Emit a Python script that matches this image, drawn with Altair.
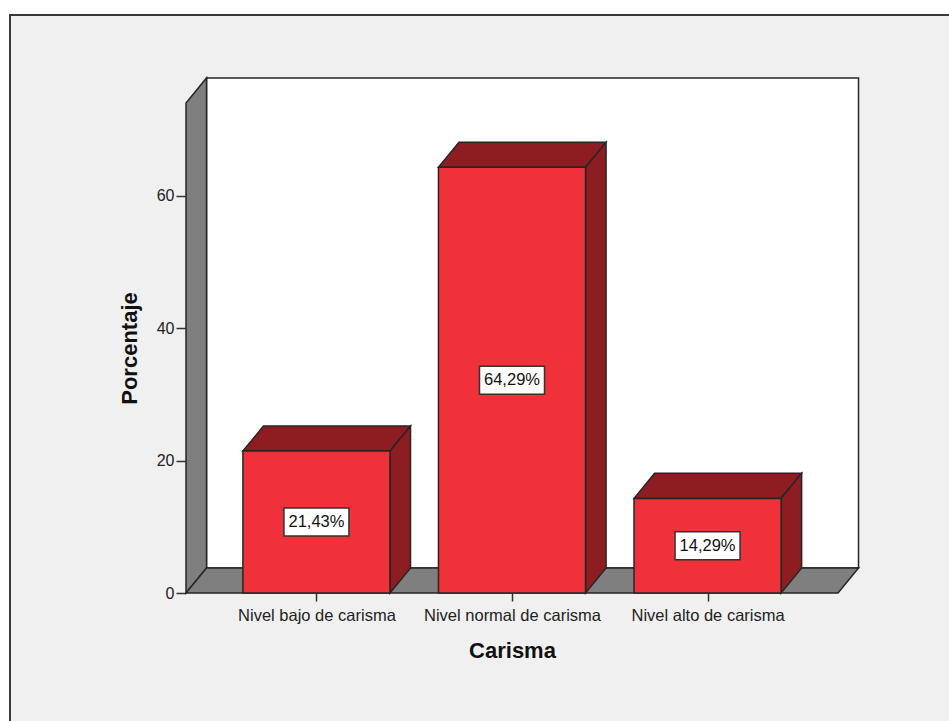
import json
import altair as alt
import pandas as pd

# ---- data ----
categories = ["Nivel bajo de carisma", "Nivel normal de carisma", "Nivel alto de carisma"]
values = [21.43, 64.29, 14.29]
value_labels = ["21,43%", "64,29%", "14,29%"]
y_ticks = [0, 20, 40, 60]

# ---- geometry (in scale units) ----
X_MIN, X_MAX = -0.667, 2.667
Y_MAX = 74.0
HW = 0.376          # half bar width
DX = 0.105          # depth offset in x units
DY = 3.78           # depth offset in y units

FONT = "Liberation Sans"
RED = "#f0313a"
DARK_RED = "#8e1d22"
GRAY = "#7f7f7f"
EDGE = "#262626"

xs = alt.Scale(domain=[X_MIN, X_MAX], nice=False, zero=False)
ys = alt.Scale(domain=[0, Y_MAX], nice=False, zero=False)

idx = list(range(len(categories)))
cats_js = json.dumps(categories)

x_axis = alt.Axis(
    values=idx, labelExpr=f"{cats_js}[datum.value]", title="Carisma",
    domain=False, grid=False, tickSize=8, tickColor="#333", tickWidth=1.5,
    labelFont=FONT, labelFontSize=16.5, labelColor="#222", labelPadding=6,
    titleFont=FONT, titleFontSize=22, titleFontWeight="bold", titleColor="#111",
    titlePadding=17, zindex=2,
)
y_axis = alt.Axis(
    values=y_ticks, title="Porcentaje", domain=False, grid=False,
    tickSize=10, tickColor="#333", tickWidth=1.5,
    labelFont=FONT, labelFontSize=16, labelColor="#222", labelPadding=2,
    titleFont=FONT, titleFontSize=22, titleFontWeight="bold", titleColor="#111",
    titlePadding=15, zindex=2,
)

front = pd.DataFrame({
    "pos": idx,
    "x0": [i - HW for i in idx],
    "x1": [i + HW for i in idx],
    "y0": [0.0] * len(idx),
    "v": values,
    "mid": [v / 2 for v in values],
    "label": value_labels,
    "cat": categories,
})

top_rows, side_rows = [], []
for i, v in zip(idx, values):
    x0, x1 = i - HW, i + HW
    top_rows += [
        {"bar": i, "x": x0, "lo": v, "hi": v},
        {"bar": i, "x": x0 + DX, "lo": v, "hi": v + DY},
        {"bar": i, "x": x1, "lo": v, "hi": v + DY},
        {"bar": i, "x": x1 + DX, "lo": v + DY, "hi": v + DY},
    ]
    side_rows += [
        {"bar": i, "x": x1, "lo": 0.0, "hi": v},
        {"bar": i, "x": x1 + DX, "lo": DY, "hi": v + DY},
    ]
top = pd.DataFrame(top_rows)
side = pd.DataFrame(side_rows)

back = pd.DataFrame({"x0": [X_MIN + DX], "x1": [X_MAX + DX], "y0": [DY], "y1": [Y_MAX + DY]})
left_wall = pd.DataFrame({"x": [X_MIN, X_MIN + DX], "lo": [0.0, DY], "hi": [Y_MAX, Y_MAX + DY]})
floor = pd.DataFrame({
    "x": [X_MIN, X_MIN + DX, X_MAX, X_MAX + DX],
    "lo": [0.0, 0.0, 0.0, DY],
    "hi": [0.0, DY, DY, DY],
})

frame = alt.Chart(pd.DataFrame({"a": [0]})).mark_rect(
    fill="#f0f0f0", stroke="#3a3a3a", strokeWidth=2
).encode(
    x=alt.value(-176), x2=alt.value(800),
    y=alt.value(-88), y2=alt.value(660),
)


def X(field):
    return alt.X(field, scale=xs, axis=x_axis)


def Y(field):
    return alt.Y(field, scale=ys, axis=y_axis)


back_wall = alt.Chart(back).mark_rect(fill="white", stroke=EDGE, strokeWidth=1.5).encode(
    x=X("x0:Q"), x2="x1:Q", y=Y("y0:Q"), y2="y1:Q",
)

left = alt.Chart(left_wall).mark_area(fill=GRAY, stroke=EDGE, strokeWidth=1.5, interpolate="linear").encode(
    x=X("x:Q"), y=Y("lo:Q"), y2="hi:Q",
)

floor_l = alt.Chart(floor).mark_area(fill=GRAY, stroke=EDGE, strokeWidth=1.5, interpolate="linear").encode(
    x=X("x:Q"), y=Y("lo:Q"), y2="hi:Q",
)

front_l = alt.Chart(front).mark_rect(fill=RED, stroke=EDGE, strokeWidth=1.5).encode(
    x=X("x0:Q"), x2="x1:Q", y=Y("y0:Q"), y2="v:Q",
)

top_l = alt.Chart(top).mark_area(fill=DARK_RED, stroke=EDGE, strokeWidth=1.5, interpolate="linear").encode(
    x=X("x:Q"), y=Y("lo:Q"), y2="hi:Q", detail="bar:N",
)
side_l = alt.Chart(side).mark_area(fill=DARK_RED, stroke=EDGE, strokeWidth=1.5, interpolate="linear").encode(
    x=X("x:Q"), y=Y("lo:Q"), y2="hi:Q", detail="bar:N",
)

box = alt.Chart(front).mark_rect(fill="white", stroke="#333", strokeWidth=1.5, width=65, height=28).encode(
    x=X("pos:Q"), y=Y("mid:Q"),
)
txt = alt.Chart(front).mark_text(font=FONT, fontSize=16.5, color="#111", baseline="middle", align="center").encode(
    x=X("pos:Q"), y=Y("mid:Q"), text="label:N",
)

chart = alt.layer(
    frame, back_wall, left, floor_l, top_l, side_l, front_l, box, txt
).properties(
    width=652, height=490,
    autosize=alt.AutoSizeParams(type="none"),
    padding={"left": 186, "top": 103, "right": 111, "bottom": 128},
    background="white",
).configure_view(stroke=None)

chart.save("out.html", embed_options={"renderer": "svg", "actions": False})
